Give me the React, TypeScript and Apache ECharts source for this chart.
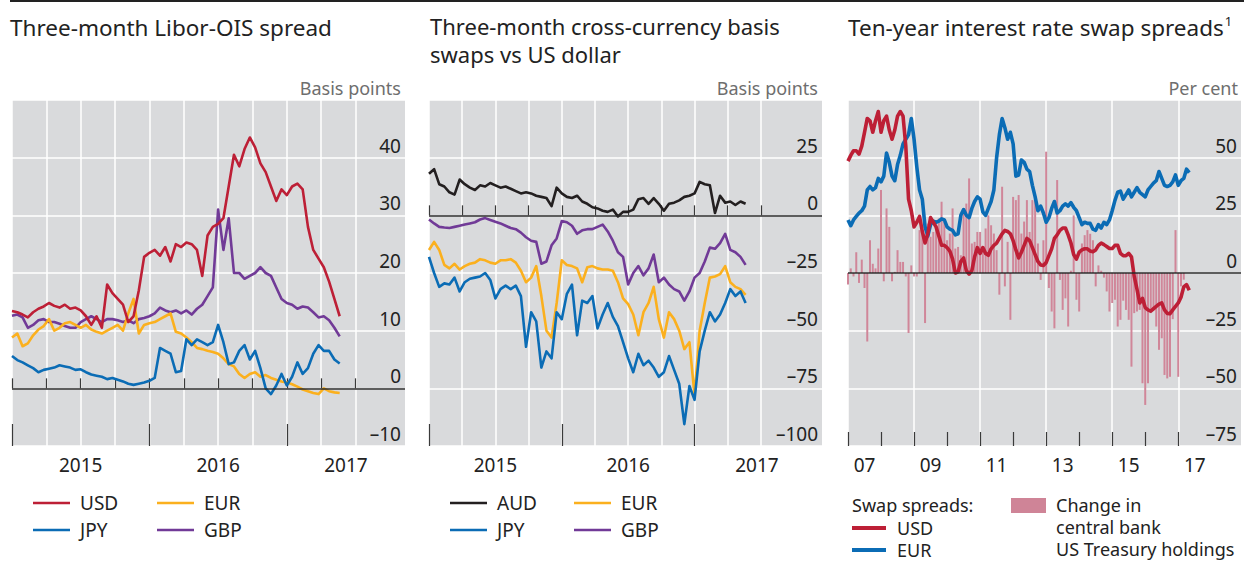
import React, { useEffect, useRef } from "react";
import * as echarts from "echarts";

const FONT = "'Noto Sans', 'Open Sans', sans-serif";
const BG = "#d9dadc";
const C_USD = "#bd1f36";
const C_JPY = "#0b6cb5";
const C_EUR = "#fbb01e";
const C_GBP = "#713a97";
const C_AUD = "#231f20";
const C_BAR = "#d08699";

// ---- Panel 1: three-month Libor-OIS spread (bp), biweekly samples from 2015.0
const P1_START = 2015;
const P1_STEP = 1 / 26;
const liborUSD = [13.4, 13.2, 12.8, 12.3, 13.2, 13.8, 14.2, 14.8, 14.3, 14.0, 14.5, 13.8, 14.0, 13.5, 12.5, 11.0, 12.5, 10.5, 18.0, 16.5, 15.5, 14.5, 11.5, 12.5, 17.0, 22.8, 23.5, 24.0, 23.0, 24.5, 22.0, 25.0, 24.5, 25.3, 25.0, 24.0, 19.5, 26.5, 28.0, 28.5, 29.5, 35.0, 40.5, 38.5, 41.5, 43.5, 41.8, 39.0, 37.5, 35.0, 32.5, 34.5, 33.5, 35.0, 35.5, 34.5, 28.0, 24.0, 22.5, 21.0, 18.5, 15.5, 12.5];
const liborJPY = [5.6, 4.9, 4.5, 4.0, 3.5, 2.8, 3.2, 3.4, 3.6, 4.0, 3.8, 3.6, 3.2, 3.3, 2.8, 2.4, 2.2, 2.0, 1.6, 1.8, 1.5, 1.2, 0.8, 0.6, 0.8, 1.0, 1.3, 1.8, 7.0, 6.5, 6.0, 2.8, 3.0, 8.5, 7.5, 8.5, 8.0, 7.5, 8.0, 11.0, 8.0, 4.2, 4.5, 6.5, 7.5, 5.0, 6.5, 3.5, 0.0, -1.0, 0.5, 2.5, 0.5, 2.0, 4.5, 2.5, 3.5, 6.0, 7.5, 6.5, 6.5, 5.0, 4.3];
const liborEUR = [8.8, 9.5, 7.3, 7.8, 9.2, 10.2, 10.8, 12.0, 10.0, 10.5, 11.3, 11.5, 11.0, 10.5, 11.0, 10.2, 9.8, 9.5, 10.0, 10.5, 11.0, 10.0, 13.0, 15.5, 9.5, 11.0, 11.3, 11.5, 12.0, 12.5, 13.0, 9.8, 9.5, 8.8, 8.0, 7.0, 6.8, 6.5, 6.3, 6.0, 5.2, 4.2, 3.8, 2.5, 1.8, 2.5, 2.8, 2.0, 2.3, 1.8, 1.5, 1.2, 1.0, 0.7, 0.3, -0.2, -0.5, -0.8, -1.0, 0.0, -0.5, -0.7, -0.8];
const liborGBP = [12.6, 12.8, 12.3, 10.5, 11.0, 11.8, 12.0, 11.5, 11.5, 11.2, 10.8, 10.5, 10.5, 11.5, 12.0, 12.5, 12.0, 11.5, 12.0, 12.0, 11.8, 11.5, 11.8, 11.3, 12.0, 12.2, 12.5, 13.0, 14.0, 13.5, 13.2, 13.5, 13.0, 13.5, 12.8, 13.8, 14.5, 16.0, 17.5, 31.0, 24.0, 29.5, 20.0, 20.0, 19.0, 19.5, 20.0, 21.0, 20.0, 19.5, 17.5, 15.5, 14.8, 14.5, 13.8, 14.2, 14.0, 13.2, 12.3, 12.5, 11.8, 10.5, 9.0];

// ---- Panel 2: three-month cross-currency basis swaps vs USD (bp), biweekly from 2015.0
const P2_START = 2015;
const P2_STEP = 1 / 26;
const basisAUD = [18.0, 20.0, 13.5, 12.5, 10.0, 9.0, 15.5, 13.5, 12.0, 11.0, 13.0, 12.5, 14.0, 13.0, 12.0, 12.5, 11.5, 10.5, 9.5, 10.0, 9.5, 8.5, 8.0, 7.5, 4.0, 12.0, 9.5, 8.0, 7.5, 8.5, 6.0, 5.0, 3.5, 3.0, 2.0, 1.5, 2.5, -0.5, 1.5, 1.5, 2.5, 7.0, 7.5, 5.0, 7.5, 5.0, 2.0, 5.0, 5.5, 6.5, 8.0, 8.5, 9.5, 14.5, 13.5, 13.0, 1.0, 8.5, 5.5, 6.0, 4.5, 6.0, 5.0];
const basisJPY = [-18.0, -25.0, -31.0, -29.5, -30.0, -27.0, -33.0, -29.0, -27.5, -27.0, -26.5, -25.0, -28.0, -36.0, -32.0, -30.5, -32.0, -30.5, -35.0, -57.0, -42.0, -46.0, -66.0, -59.0, -62.0, -42.0, -45.0, -34.0, -30.0, -52.0, -37.0, -38.0, -35.0, -49.0, -43.0, -38.0, -44.0, -48.0, -55.0, -62.0, -68.0, -60.0, -65.0, -63.0, -66.0, -70.0, -68.0, -61.0, -67.0, -73.0, -90.5, -74.0, -80.0, -59.0, -50.0, -42.0, -46.0, -43.0, -38.0, -32.0, -35.0, -33.0, -38.0];
const basisEUR = [-15.0, -11.5, -15.0, -21.5, -23.0, -21.0, -23.5, -22.0, -21.0, -20.5, -19.0, -19.5, -20.5, -21.0, -19.5, -19.5, -19.0, -20.5, -24.0, -29.0, -27.0, -22.0, -35.0, -50.0, -53.0, -38.0, -19.5, -21.5, -22.0, -23.0, -29.0, -22.5, -22.0, -23.0, -23.5, -23.5, -24.0, -29.0, -36.0, -38.5, -43.0, -52.0, -42.0, -38.0, -31.0, -45.0, -53.0, -42.0, -45.0, -50.0, -58.0, -55.0, -78.0, -50.0, -38.0, -27.0, -26.5, -25.5, -22.0, -29.0, -31.0, -32.0, -34.5];
const basisGBP = [-1.8, -3.5, -5.0, -5.3, -5.5, -5.0, -4.5, -4.0, -3.5, -3.0, -1.8, -1.2, -2.0, -2.8, -3.5, -4.5, -5.5, -6.0, -7.5, -9.5, -11.0, -11.5, -21.0, -20.0, -13.0, -10.0, -2.5, -3.0, -4.5, -8.0, -6.5, -6.0, -6.0, -5.0, -4.0, -7.0, -11.0, -16.0, -18.0, -30.0, -25.0, -22.0, -26.0, -23.0, -17.0, -29.0, -27.0, -30.0, -32.0, -33.0, -37.0, -33.0, -27.0, -25.0, -20.0, -14.0, -14.5, -12.0, -8.0, -15.0, -16.0, -18.0, -21.5];

// ---- Panel 3: ten-year swap spreads (bp) monthly from 2007.0, and monthly change in holdings
const P3_START = 2007;
const P3_STEP = 1 / 12;
const swapUSD = [48.5, 51, 53, 53, 51.5, 55, 61, 67, 66, 61, 66, 70, 61, 66, 68, 62, 58, 62, 68, 70, 68, 55, 32, 27, 20, 22, 24.5, 18, 13, 17, 24, 22, 20, 16, 12, 12, 11, 9.5, 6, 0, 0.5, 5, 6.5, 1, -0.5, 1, 7, 11, 8.5, 11, 8.5, 7.7, 10.5, 12, 13, 15, 17, 18.5, 18, 17, 14, 10, 6.5, 9, 12, 15, 14, 11, 8, 5, 3.5, 3.3, 4.5, 7.5, 10.5, 15, 16.5, 18.5, 19.5, 19.5, 16.5, 13, 8, 6, 9, 10, 10.5, 10.5, 9.5, 9.2, 10, 12, 13, 12.3, 11.5, 10.6, 10.6, 12, 12, 8.5, 7.5, 7.5, 8.5, 7, -1.5, -7, -13, -11, -15, -16, -16.5, -15.5, -14.5, -13.5, -13, -16, -17.5, -17.7, -16, -14.5, -13, -10.5, -6, -5, -7.5];
const swapEUR = [23, 20.5, 23, 24.5, 26, 27, 29, 36, 37.5, 36, 37, 41, 39.5, 42, 52, 48, 42, 40, 47, 51, 56, 58, 60, 67, 58, 46, 36, 32, 20, 16, 21, 22.5, 22, 22.5, 23.5, 23, 20, 19, 18.5, 16.5, 17, 25, 27.5, 25, 24, 28, 31, 33, 32, 26.5, 25, 28, 31, 36, 50, 60, 67, 63, 58, 61, 56, 42, 42.5, 49, 48, 45, 44, 38, 33, 27, 29, 26, 22, 24, 28, 31, 26, 27, 29, 30, 29, 30.5, 28.5, 27, 24, 21, 22, 21.5, 21.5, 19, 18.5, 21, 19.5, 22, 21, 23, 27, 31.5, 35, 35.5, 32, 34, 36, 33, 35, 37, 35, 34, 33, 36, 37.5, 39, 40, 44, 41, 38, 37.5, 38, 39.5, 42.5, 38, 40, 41, 45, 43.5];
const holdingsChange = [-5, 2, -1.5, 9, -4.3, 5.8, -6.5, -29.7, 14.2, 4, 2, 10.6, 36, -3.6, 28, 20, -3.6, 0.5, 9.9, 4.8, 4.8, -1.5, -26, 3.3, -1.5, -1.5, 18.6, 17, -21.7, 21.4, 15.7, 17.8, 20, 23.6, 30.9, 22, 14.2, 17.1, 28, 10.6, 11.3, 7.7, 26.5, 30.1, 41, 12.8, 13.5, 17.8, 17.8, 11.3, 19.3, 25, 20.7, 17.1, 9.9, -9.4, 37.4, -5.8, 13.5, -20.3, 33, 31.6, 33.8, 17.1, 22.3, 31.6, 17.8, 31.6, 33, 12.8, -3, 14.2, 52.6, -6.5, -16.7, -24, 40.3, -3, -16, -11, -23.2, 1, 25, -11.6, -16.7, 12.8, 16.4, 18.6, 17, 14.2, -5.8, 3.3, 1, -2, -8, -16.7, -13, -11.6, -23.2, -20.3, -12, -16, -20.3, -40.6, -17.4, -16.7, -16, -47.8, -57.2, -47.8, -17.4, -16, -23.2, -33.3, -28.3, -44.2, -45.7, -45, -20, 18.6, -45, -5.8, -2.9];

// ---- Axis ticks / labels
const p1Quarters = [2015, 2015.25, 2015.5, 2015.75, 2016, 2016.25, 2016.5, 2016.75, 2017, 2017.25, 2017.5];
const p1Years = [2015, 2016, 2017];
const p1YearLabels = [2015.5, 2016.5, 2017.43];
const p2YearLabels = [2015.5, 2016.5, 2017.47];
const p3Grid = [2007, 2009, 2011, 2013, 2015, 2017];
const p3Years = [2007, 2008, 2009, 2010, 2011, 2012, 2013, 2014, 2015, 2016, 2017];
const p3YearLabels = [2007.5, 2009.5, 2011.5, 2013.5, 2015.5, 2017.5];

const toXY = (start: number, step: number, vals: number[]) => vals.map((v, i) => [start + i * step, v]);
const fmtNum = (v: number) => (v < 0 ? "\u2013" + Math.abs(v) : String(v));

const GRID_TOP = 100;
const GRID_H = 346;
const GRID_W = 393;
const GRID_LEFTS = [12, 429, 848];

function xAxesFor(grid: number, min: number, max: number, gridTicks: number[], shortTicks: number[] | null, longTicks: number[], longLen: number, labels: number[], fmt: (v: number) => string) {
  const tickStyle = { color: "#3a3a3a", width: 1.2 };
  return [
    {
      type: "value", gridIndex: grid, min, max, position: "bottom",
      axisLine: { show: false },
      axisTick: { show: !!shortTicks, inside: true, length: 10, customValues: shortTicks || gridTicks, lineStyle: tickStyle },
      splitLine: { show: true, lineStyle: { color: "#ffffff", width: 1.5 } },
      axisLabel: { show: true, customValues: labels, formatter: (v: number) => fmt(v), margin: 9, fontSize: 19, color: "#222", fontFamily: FONT },
    },
    {
      type: "value", gridIndex: grid, min, max, position: "bottom",
      axisLine: { show: false },
      axisTick: { show: true, inside: true, length: longLen, customValues: longTicks, lineStyle: tickStyle },
      splitLine: { show: false },
      axisLabel: { show: false },
    },
  ];
}

function yAxisFor(grid: number, min: number, max: number, interval: number) {
  return {
    type: "value", gridIndex: grid, position: "right", min, max, interval,
    axisLine: { show: false }, axisTick: { show: false },
    splitLine: { show: true, lineStyle: { color: "#ffffff", width: 1.5 } },
    axisLabel: {
      inside: true, margin: 4, verticalAlign: "bottom", lineHeight: 20, padding: [0, 0, 2, 0],
      fontSize: 19, color: "#222", fontFamily: FONT,
      formatter: (v: number) => (v === max ? "" : fmtNum(v)),
    },
  };
}

const zeroLine = {
  silent: true, symbol: ["none", "none"], label: { show: false },
  lineStyle: { color: "#2a2a2a", width: 1.5, type: "solid" },
  emphasis: { disabled: true },
  data: [{ yAxis: 0 }],
};

function lineSeries(name: string, color: string, data: number[][], xi: number, yi: number, width: number, withZero = false) {
  const s: any = {
    name, type: "line", data, xAxisIndex: xi, yAxisIndex: yi,
    showSymbol: false, symbol: "none", smooth: false,
    lineStyle: { color, width, join: "round" }, itemStyle: { color },
    emphasis: { disabled: true },
  };
  if (withZero) s.markLine = zeroLine;
  return s;
}

function txt(x: number, y: number, text: string, size = 18, fill = "#222", align = "left", lineHeight?: number) {
  const style: any = { text, fill, fontSize: size, fontFamily: FONT, align, verticalAlign: "middle" };
  if (lineHeight) style.lineHeight = lineHeight;
  return { type: "text", x, y, silent: true, style };
}
function legLine(x: number, y: number, w: number, color: string, lw: number) {
  return { type: "line", silent: true, shape: { x1: x, y1: y, x2: x + w, y2: y }, style: { stroke: color, lineWidth: lw } };
}

export default function App() {
  const ref = useRef<HTMLDivElement>(null);
  useEffect(() => {
    if (!ref.current) return;
    const chart = echarts.init(ref.current, null, { renderer: "svg" });

    const grids = GRID_LEFTS.map((left) => ({
      left, top: GRID_TOP, width: GRID_W, height: GRID_H,
      show: true, backgroundColor: BG, borderWidth: 0, outerBoundsMode: "none",
    }));

    const xAxis = [
      ...xAxesFor(0, 2015, 2017.86, p1Quarters, p1Quarters, p1Years, 22, p1YearLabels, (v) => String(Math.floor(v))),
      ...xAxesFor(1, 2015, 2017.96, p1Quarters, p1Quarters, p1Years, 22, p2YearLabels, (v) => String(Math.floor(v))),
      ...xAxesFor(2, 2007, 2018.9, p3Grid, null, p3Years, 14, p3YearLabels, (v) => String(Math.floor(v)).slice(2)),
    ];
    const yAxis = [yAxisFor(0, -10, 50, 10), yAxisFor(1, -100, 50, 25), yAxisFor(2, -75, 75, 25)];

    const LW = 2.6;
    const series = [
      lineSeries("GBP", C_GBP, toXY(P1_START, P1_STEP, liborGBP), 0, 0, LW, true),
      lineSeries("EUR", C_EUR, toXY(P1_START, P1_STEP, liborEUR), 0, 0, LW),
      lineSeries("JPY", C_JPY, toXY(P1_START, P1_STEP, liborJPY), 0, 0, LW),
      lineSeries("USD", C_USD, toXY(P1_START, P1_STEP, liborUSD), 0, 0, LW),

      lineSeries("AUD", C_AUD, toXY(P2_START, P2_STEP, basisAUD), 2, 1, LW, true),
      lineSeries("GBP", C_GBP, toXY(P2_START, P2_STEP, basisGBP), 2, 1, LW),
      lineSeries("EUR", C_EUR, toXY(P2_START, P2_STEP, basisEUR), 2, 1, LW),
      lineSeries("JPY", C_JPY, toXY(P2_START, P2_STEP, basisJPY), 2, 1, LW),

      {
        name: "Holdings", type: "bar", xAxisIndex: 4, yAxisIndex: 2, barWidth: 2,
        data: toXY(P3_START, P3_STEP, holdingsChange),
        itemStyle: { color: C_BAR }, emphasis: { disabled: true },
        markLine: zeroLine,
      },
      lineSeries("EUR", C_JPY, toXY(P3_START, P3_STEP, swapEUR), 4, 2, 3.6),
      lineSeries("USD", C_USD, toXY(P3_START, P3_STEP, swapUSD), 4, 2, 3.6),
    ];

    const graphic: any[] = [
      { type: "line", silent: true, shape: { x1: 10, y1: 1, x2: 1244, y2: 1 }, style: { stroke: "#222", lineWidth: 2 } },
      txt(10, 27, "Three-month Libor-OIS spread", 22.5),
      txt(430, 26, "Three-month cross-currency basis", 22),
      txt(430, 54, "swaps vs US dollar", 22),
      {
        type: "text", x: 848, y: 27, silent: true,
        style: {
          text: "{t|Ten-year interest rate swap spreads}{s|1}",
          verticalAlign: "middle", fill: "#222", fontFamily: FONT,
          rich: {
            t: { fontSize: 22.5, fontFamily: FONT, fill: "#222" },
            s: { fontSize: 13, fontFamily: FONT, fill: "#222", padding: [0, 0, 12, 1] },
          },
        },
      },
      txt(401, 88, "Basis points", 18, "#6e6e6e", "right"),
      txt(818, 88, "Basis points", 18, "#6e6e6e", "right"),
      txt(1238, 88, "Per cent", 18, "#6e6e6e", "right"),

      legLine(33, 503, 37, C_USD, 2.5), txt(80, 503, "USD", 19),
      legLine(157, 503, 37, C_EUR, 2.5), txt(204, 503, "EUR", 19),
      legLine(33, 530, 37, C_JPY, 2.5), txt(80, 530, "JPY", 19),
      legLine(157, 530, 37, C_GBP, 2.5), txt(204, 530, "GBP", 19),

      legLine(450, 503, 37, C_AUD, 2.5), txt(497, 503, "AUD", 19),
      legLine(574, 503, 37, C_EUR, 2.5), txt(621, 503, "EUR", 19),
      legLine(450, 530, 37, C_JPY, 2.5), txt(497, 530, "JPY", 19),
      legLine(574, 530, 37, C_GBP, 2.5), txt(621, 530, "GBP", 19),

      txt(852, 505, "Swap spreads:"),
      legLine(852, 528, 34, C_USD, 4), txt(897, 528, "USD"),
      legLine(852, 550, 34, C_JPY, 4), txt(897, 550, "EUR"),
      { type: "rect", silent: true, shape: { x: 1011, y: 498, width: 35, height: 15 }, style: { fill: "#cf8497" } },
      txt(1056, 527, "Change in\ncentral bank\nUS Treasury holdings", 18, "#222", "left", 22),
    ];

    chart.setOption({
      animation: false,
      backgroundColor: "#ffffff",
      textStyle: { fontFamily: FONT },
      grid: grids,
      xAxis,
      yAxis,
      series,
      graphic,
    });
    return () => chart.dispose();
  }, []);

  return <div ref={ref} style={{ position: "fixed", left: 0, top: 0, width: 1244, height: 561 }} />;
}
